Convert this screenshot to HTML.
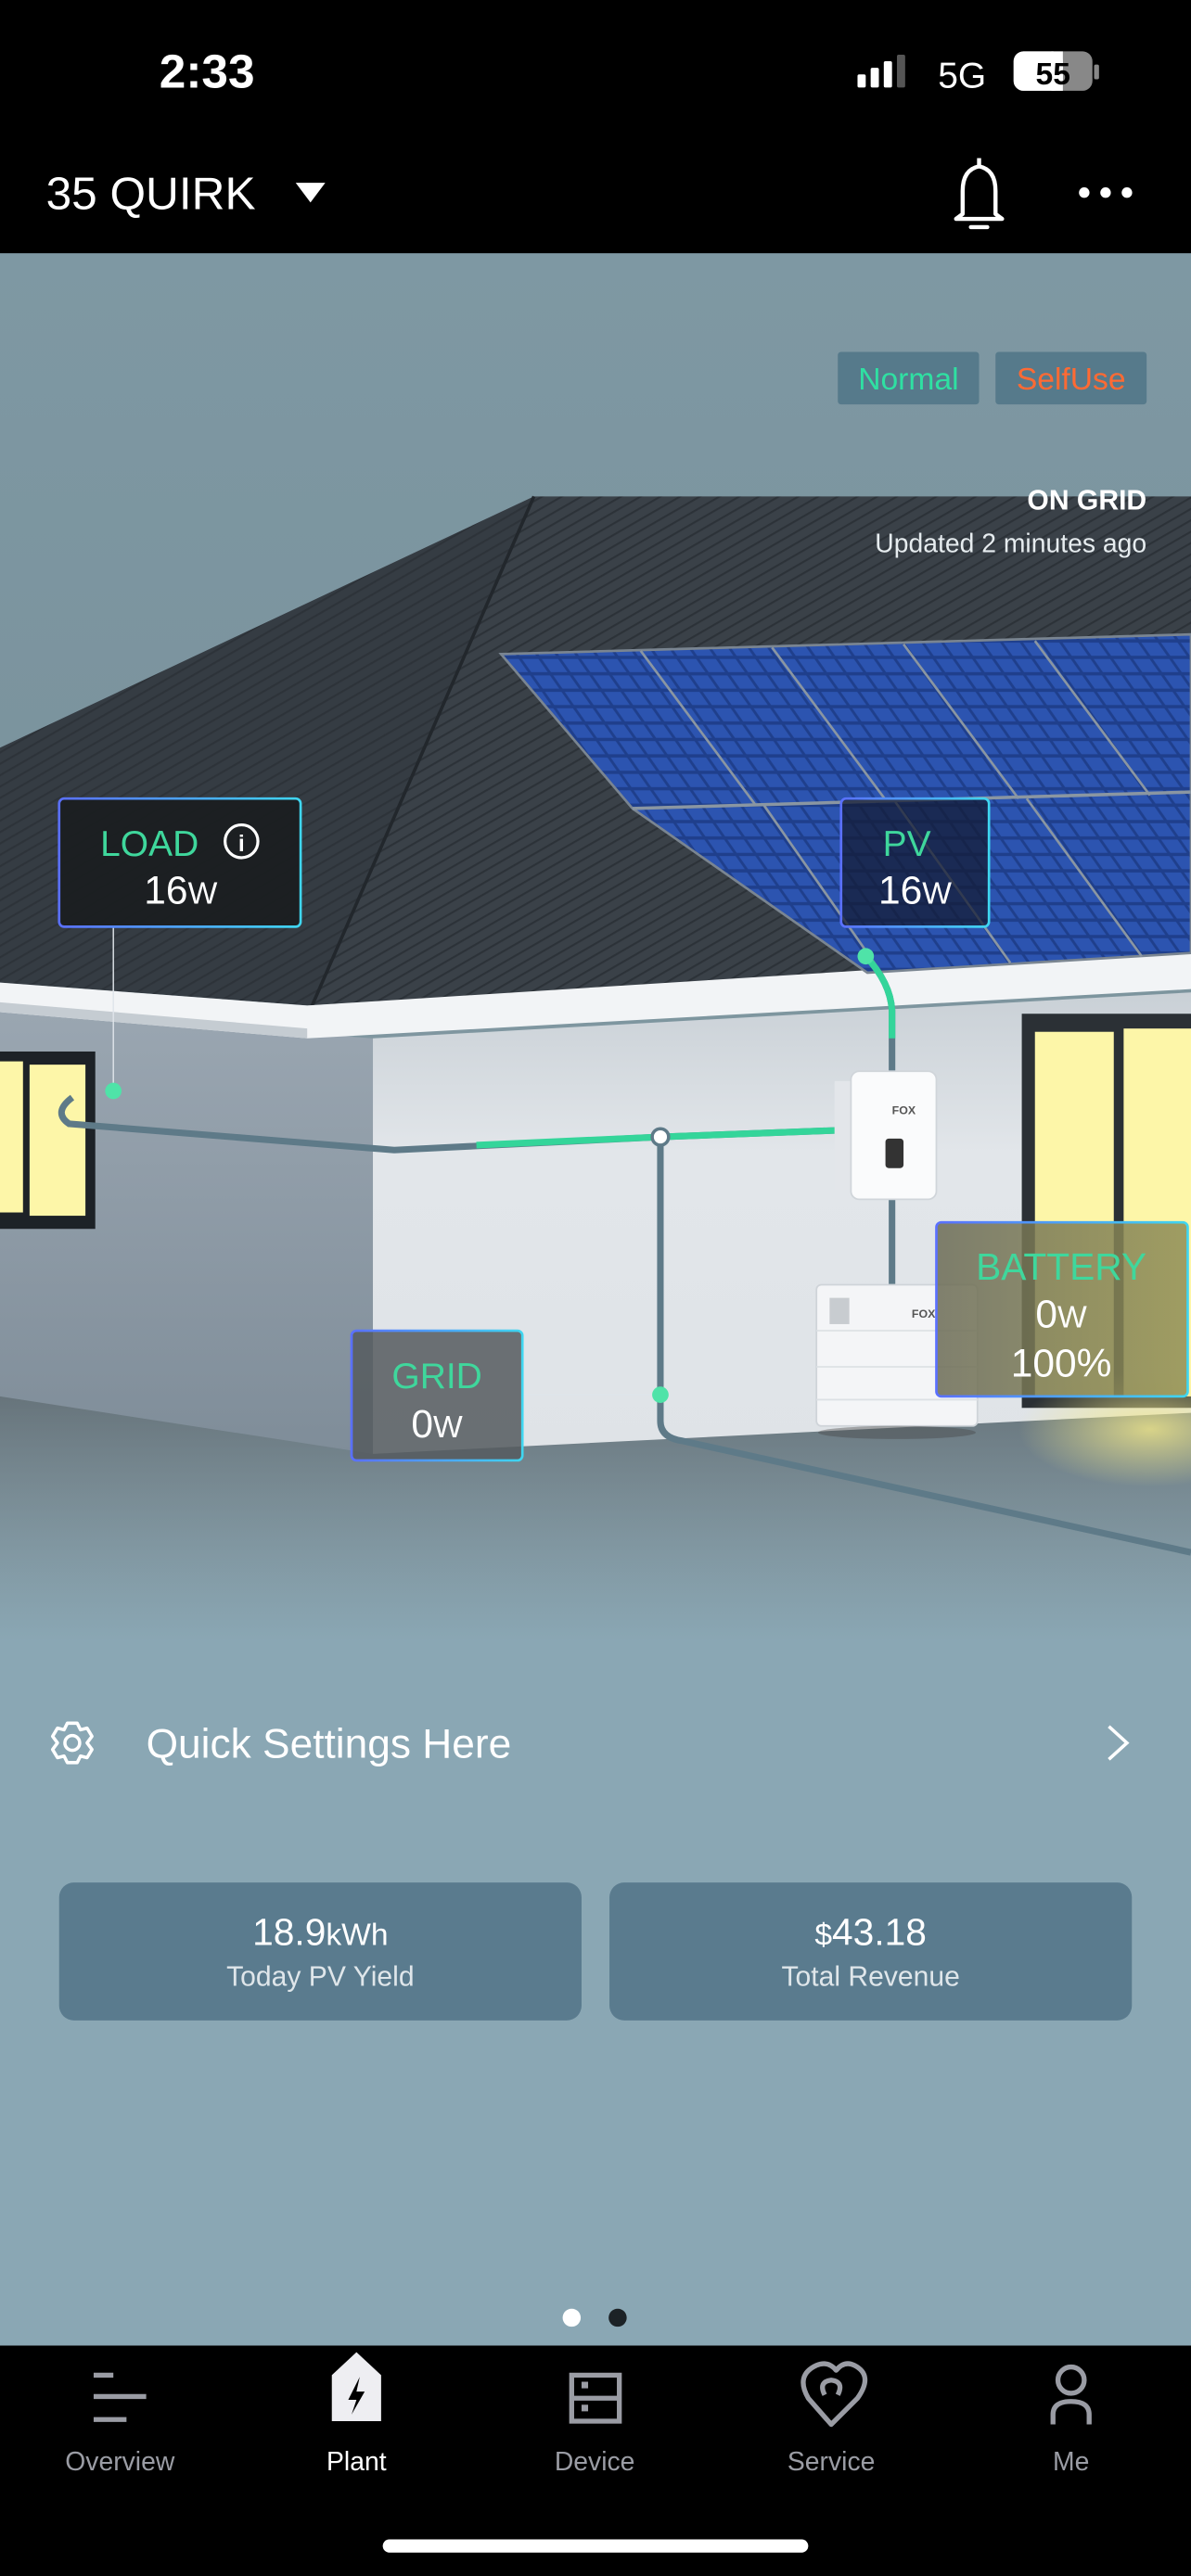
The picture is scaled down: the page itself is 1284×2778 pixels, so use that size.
<!DOCTYPE html>
<html><head><meta charset="utf-8"><style>
html,body{margin:0;padding:0;background:#000;}
svg{display:block;}
text{font-family:"Liberation Sans",sans-serif;}
</style></head><body>
<svg width="1284" height="2778" viewBox="0 0 725 1568" xmlns="http://www.w3.org/2000/svg">
<defs>
<linearGradient id="sky" x1="0" y1="0" x2="0" y2="1">
<stop offset="0" stop-color="#7e98a3"/><stop offset="0.6" stop-color="#7a929c"/><stop offset="1" stop-color="#8ea4ab"/>
</linearGradient>
<linearGradient id="ground" x1="0" y1="0" x2="0" y2="1">
<stop offset="0" stop-color="#6f7b82"/><stop offset="0.45" stop-color="#7c8d95"/><stop offset="1" stop-color="#8aa7b4"/>
</linearGradient>
<linearGradient id="shadow" x1="0" y1="0" x2="0" y2="1">
<stop offset="0" stop-color="#5f6b72" stop-opacity="0.7"/><stop offset="1" stop-color="#8aa7b4" stop-opacity="0"/>
</linearGradient>
<linearGradient id="front" x1="0" y1="0" x2="0" y2="1">
<stop offset="0" stop-color="#c9d0d6"/><stop offset="0.35" stop-color="#e2e6ea"/><stop offset="1" stop-color="#dfe3e7"/>
</linearGradient>
<linearGradient id="leftw" x1="0" y1="0" x2="0" y2="1">
<stop offset="0" stop-color="#9aa6b1"/><stop offset="1" stop-color="#7f8d99"/>
</linearGradient>
<linearGradient id="bat" x1="0" y1="0" x2="1" y2="0">
<stop offset="0" stop-color="#6b6b55" stop-opacity="0.85"/><stop offset="1" stop-color="#8f8d55" stop-opacity="0.85"/>
</linearGradient>
<linearGradient id="brd" x1="0" y1="0" x2="1" y2="0">
<stop offset="0" stop-color="#5a70ff"/><stop offset="1" stop-color="#3fd6f0"/>
</linearGradient>
<radialGradient id="glow" cx="0.5" cy="0.5" r="0.5">
<stop offset="0" stop-color="#f3e98a" stop-opacity="0.8"/><stop offset="1" stop-color="#f3e98a" stop-opacity="0"/>
</radialGradient>
<pattern id="cells" width="12" height="10" patternUnits="userSpaceOnUse" patternTransform="skewX(35)">
<rect width="12" height="10" fill="#1f3f8c"/><rect x="1" y="1" width="10" height="8" fill="#2c54b0"/>
</pattern>
<pattern id="shing" width="6" height="6" patternUnits="userSpaceOnUse" patternTransform="rotate(60)">
<rect width="6" height="6" fill="#3a4148"/><rect width="1.2" height="6" fill="#2c3238"/>
</pattern>
</defs>
<!-- top bars -->
<rect x="0" y="0" width="725" height="154" fill="#000"/>
<text x="126" y="53" fill="#fff" font-size="29" font-weight="bold" text-anchor="middle">2:33</text>
<rect x="522" y="45" width="5" height="8" rx="1" fill="#fff"/>
<rect x="530" y="41" width="5" height="12" rx="1" fill="#fff"/>
<rect x="538" y="37" width="5" height="16" rx="1" fill="#fff"/>
<rect x="546" y="33" width="5" height="20" rx="1" fill="#555"/>
<text x="571" y="53" fill="#fff" font-size="22">5G</text>
<rect x="617" y="31" width="48" height="24" rx="6" fill="#888"/>
<rect x="617" y="31" width="30" height="24" rx="6" fill="#fff"/>
<rect x="640" y="31" width="7" height="24" fill="#fff"/>
<text x="641" y="51" fill="#000" font-size="19" font-weight="bold" text-anchor="middle">55</text>
<rect x="666" y="39" width="3" height="9" rx="1" fill="#888"/>
<text x="28" y="127" fill="#fff" font-size="28">35 QUIRK</text>
<polygon points="180,111 198,111 189,123" fill="#fff"/>
<path d="M586,130 L586,116 Q586,103 596,101 Q606,103 606,116 L606,130 L610,133 L582,133 Z" fill="none" stroke="#fff" stroke-width="2.5" stroke-linejoin="round"/>
<line x1="596" y1="96" x2="596" y2="101" stroke="#fff" stroke-width="2.5"/>
<line x1="591" y1="138" x2="601" y2="138" stroke="#fff" stroke-width="2.5" stroke-linecap="round"/>
<circle cx="660" cy="117" r="3.2" fill="#fff"/><circle cx="673" cy="117" r="3.2" fill="#fff"/><circle cx="686" cy="117" r="3.2" fill="#fff"/>
<!-- scene -->
<rect x="0" y="154" width="725" height="1274" fill="#8aa7b4"/>
<rect x="0" y="154" width="725" height="680" fill="url(#sky)"/>
<rect x="0" y="820" width="725" height="180" fill="url(#ground)"/>
<polygon points="0,845 227,885 725,858 725,990 0,990" fill="url(#shadow)"/>
<!-- walls -->
<polygon points="0,615 227,632 227,885 0,850" fill="url(#leftw)"/>
<polygon points="227,632 725,604 725,860 227,885" fill="url(#front)"/>
<!-- roof -->
<polygon points="0,455 325,302 725,302 725,580 187,612 0,598" fill="url(#shing)"/>
<polygon points="0,455 325,302 190,612 0,598" fill="#2f353b" opacity="0.4"/>
<line x1="325" y1="302" x2="190" y2="612" stroke="#22272c" stroke-width="2"/>
<polygon points="0,598 187,612 725,578 725,602 187,632 0,616" fill="#f2f4f6"/>
<polygon points="0,610 187,626 187,632 0,616" fill="#c5ccd2"/>
<!-- solar panels -->
<polygon points="305,398 725,386 725,580 528,592 385,492" fill="url(#cells)" stroke="#7a8591" stroke-width="1.5"/>
<line x1="385" y1="492" x2="725" y2="482" stroke="#8a96a2" stroke-width="2"/>
<line x1="390" y1="396" x2="460" y2="490" stroke="#8a96a2" stroke-width="1.5"/>
<line x1="470" y1="394" x2="540" y2="488" stroke="#8a96a2" stroke-width="1.5"/>
<line x1="550" y1="392" x2="620" y2="486" stroke="#8a96a2" stroke-width="1.5"/>
<line x1="630" y1="390" x2="700" y2="484" stroke="#8a96a2" stroke-width="1.5"/>
<line x1="465" y1="490" x2="535" y2="590" stroke="#8a96a2" stroke-width="1.5"/>
<line x1="545" y1="488" x2="615" y2="586" stroke="#8a96a2" stroke-width="1.5"/>
<line x1="625" y1="486" x2="695" y2="582" stroke="#8a96a2" stroke-width="1.5"/>
<!-- windows -->
<rect x="0" y="640" width="58" height="108" fill="#1d2227"/>
<rect x="0" y="646" width="14" height="92" fill="#fdf6a8"/>
<rect x="18" y="648" width="34" height="92" fill="#fdf6a8"/>
<rect x="622" y="617" width="103" height="240" fill="#2b3035"/>
<rect x="630" y="628" width="48" height="222" fill="#fdf6a8"/>
<rect x="684" y="626" width="41" height="224" fill="#fdf6a8"/>
<ellipse cx="700" cy="870" rx="80" ry="35" fill="url(#glow)"/>
<!-- lines -->
<path d="M44,668 Q32,677 42,684 L240,700 L402,692 L510,688" fill="none" stroke="#5e7a88" stroke-width="4"/>
<path d="M290,697 L402,692 L510,688" fill="none" stroke="#34d59a" stroke-width="4"/>
<path d="M402,692 L402,865 Q402,875 415,877 L725,945" fill="none" stroke="#5e7a88" stroke-width="4"/>
<path d="M527,582 Q542,598 543,615 L543,790" fill="none" stroke="#5e7a88" stroke-width="4"/>
<path d="M527,582 Q542,598 543,615 L543,632" fill="none" stroke="#34d59a" stroke-width="4"/>
<line x1="69" y1="564" x2="69" y2="664" stroke="#dfe5ea" stroke-width="0.8"/>
<line x1="318" y1="849" x2="402" y2="849" stroke="#dfe5ea" stroke-width="0.8"/>
<circle cx="69" cy="664" r="5" fill="#4fe3a8"/>
<circle cx="527" cy="582" r="5" fill="#4fe3a8"/>
<circle cx="402" cy="849" r="5" fill="#4fe3a8"/>
<circle cx="402" cy="692" r="5" fill="#fff" stroke="#5e7a88" stroke-width="2"/>
<!-- inverter -->
<rect x="508" y="658" width="14" height="66" fill="#e3e6ea"/>
<rect x="518" y="652" width="52" height="78" rx="5" fill="#fafbfc" stroke="#d0d5da"/>
<text x="543" y="678" font-size="7" fill="#555" font-weight="bold">FOX</text>
<rect x="539" y="693" width="11" height="18" rx="2" fill="#333"/>
<!-- battery unit -->
<rect x="497" y="782" width="98" height="86" rx="3" fill="#f4f5f7" stroke="#cfd4d9"/>
<line x1="497" y1="810" x2="595" y2="810" stroke="#dde1e5"/>
<line x1="497" y1="832" x2="595" y2="832" stroke="#dde1e5"/>
<line x1="497" y1="852" x2="595" y2="852" stroke="#dde1e5"/>
<text x="555" y="802" font-size="7" fill="#555" font-weight="bold">FOX</text>
<rect x="505" y="790" width="12" height="16" fill="#c8ccd0"/>
<ellipse cx="546" cy="872" rx="48" ry="4" fill="#444" opacity="0.4"/>
<!-- labels -->
<rect x="36" y="486" width="147" height="78" rx="3" fill="#1a1d20" fill-opacity="0.92" stroke="url(#brd)" stroke-width="1.5"/>
<text x="91" y="521" fill="#3fd79c" font-size="22" text-anchor="middle">LOAD</text>
<circle cx="147" cy="512" r="10" fill="none" stroke="#fff" stroke-width="1.8"/>
<text x="147" y="518" fill="#fff" font-size="14" font-weight="bold" text-anchor="middle">i</text>
<text x="110" y="550" fill="#fff" font-size="24" text-anchor="middle">16<tspan font-size="19">W</tspan></text>
<rect x="512" y="486" width="90" height="78" rx="3" fill="#141c36" fill-opacity="0.75" stroke="url(#brd)" stroke-width="1.5"/>
<text x="552" y="521" fill="#3fd79c" font-size="22" text-anchor="middle">PV</text>
<text x="557" y="550" fill="#fff" font-size="24" text-anchor="middle">16<tspan font-size="19">W</tspan></text>
<rect x="214" y="810" width="104" height="79" rx="3" fill="#555a5e" fill-opacity="0.85" stroke="url(#brd)" stroke-width="1.5"/>
<text x="266" y="845" fill="#3fd79c" font-size="22" text-anchor="middle">GRID</text>
<text x="266" y="875" fill="#fff" font-size="24" text-anchor="middle">0<tspan font-size="19">W</tspan></text>
<rect x="570" y="744" width="153" height="106" rx="3" fill="url(#bat)" stroke="url(#brd)" stroke-width="1.5"/>
<text x="646" y="779" fill="#3fd79c" font-size="23" text-anchor="middle">BATTERY</text>
<text x="646" y="808" fill="#fff" font-size="24" text-anchor="middle">0<tspan font-size="19">W</tspan></text>
<text x="646" y="838" fill="#fff" font-size="24" text-anchor="middle">100%</text>
<!-- badges -->
<rect x="510" y="214" width="86" height="32" rx="2" fill="#567a8b"/>
<text x="553" y="237" fill="#2fe0a2" font-size="19" text-anchor="middle">Normal</text>
<rect x="606" y="214" width="92" height="32" rx="2" fill="#567a8b"/>
<text x="652" y="237" fill="#ff6a33" font-size="19" text-anchor="middle">SelfUse</text>
<text x="698" y="310" fill="#fff" font-size="17" font-weight="bold" text-anchor="end">ON GRID</text>
<text x="698" y="336" fill="#e6ecef" font-size="16" text-anchor="end">Updated 2 minutes ago</text>
<!-- quick settings -->
<g transform="translate(44,1061)" fill="none" stroke="#fff" stroke-width="2">
<path d="M-3,-12 L3,-12 L5,-8 L9,-9 L12,-4 L9,0 L12,4 L9,9 L5,8 L3,12 L-3,12 L-5,8 L-9,9 L-12,4 L-9,0 L-12,-4 L-9,-9 L-5,-8 Z" stroke-linejoin="round"/>
<circle cx="0" cy="0" r="4.5"/>
</g>
<text x="89" y="1070" fill="#fff" font-size="25">Quick Settings Here</text>
<polyline points="675,1051 686,1061 675,1071" fill="none" stroke="#fff" stroke-width="2"/>
<!-- cards -->
<rect x="36" y="1146" width="318" height="84" rx="9" fill="#5a7b8e"/>
<text x="195" y="1184" fill="#fff" font-size="23" text-anchor="middle">18.9<tspan font-size="19">kWh</tspan></text>
<text x="195" y="1209" fill="#dfe6ea" font-size="17" text-anchor="middle">Today PV Yield</text>
<rect x="371" y="1146" width="318" height="84" rx="9" fill="#5a7b8e"/>
<text x="530" y="1184" fill="#fff" font-size="23" text-anchor="middle"><tspan font-size="19">$</tspan>43.18</text>
<text x="530" y="1209" fill="#dfe6ea" font-size="17" text-anchor="middle">Total Revenue</text>
<circle cx="348" cy="1411" r="5.5" fill="#fff"/>
<circle cx="376" cy="1411" r="5.5" fill="#1c2226"/>
<!-- tab bar -->
<rect x="0" y="1428" width="725" height="140" fill="#000"/>
<g stroke="#9a9ca4" stroke-width="3">
<line x1="57" y1="1446" x2="69" y2="1446"/><line x1="57" y1="1459" x2="89" y2="1459"/><line x1="57" y1="1473" x2="77" y2="1473"/>
</g>
<path d="M202,1446 L217,1432 L232,1446 L232,1474 L202,1474 Z" fill="#eeeef2"/>
<path d="M219,1447 L212,1461 L217,1461 L214,1470 L222,1456 L217,1456 Z" fill="#000"/>
<rect x="348" y="1446" width="29" height="28" fill="none" stroke="#9a9ca4" stroke-width="3"/>
<line x1="348" y1="1460" x2="377" y2="1460" stroke="#9a9ca4" stroke-width="3"/>
<rect x="354" y="1450" width="4" height="4" fill="#9a9ca4"/><rect x="354" y="1464" width="4" height="4" fill="#9a9ca4"/>
<path d="M506,1476 L492,1460 Q484,1446 497,1440 Q504,1437 509,1443 Q514,1437 520,1440 Q532,1446 522,1460 Z M502,1458 Q498,1450 506,1449 Q514,1450 510,1458" fill="none" stroke="#9a9ca4" stroke-width="3" stroke-linejoin="round"/>
<circle cx="652" cy="1449" r="8" fill="none" stroke="#9a9ca4" stroke-width="3"/>
<path d="M641,1476 L641,1470 Q641,1462 652,1462 Q663,1462 663,1470 L663,1476" fill="none" stroke="#9a9ca4" stroke-width="3"/>
<text x="73" y="1504" fill="#9a9ca4" font-size="16" text-anchor="middle">Overview</text>
<text x="217" y="1504" fill="#fff" font-size="16" text-anchor="middle">Plant</text>
<text x="362" y="1504" fill="#9a9ca4" font-size="16" text-anchor="middle">Device</text>
<text x="506" y="1504" fill="#9a9ca4" font-size="16" text-anchor="middle">Service</text>
<text x="652" y="1504" fill="#9a9ca4" font-size="16" text-anchor="middle">Me</text>
<rect x="233" y="1546" width="259" height="8" rx="4" fill="#fff"/>
</svg>
</body></html>
